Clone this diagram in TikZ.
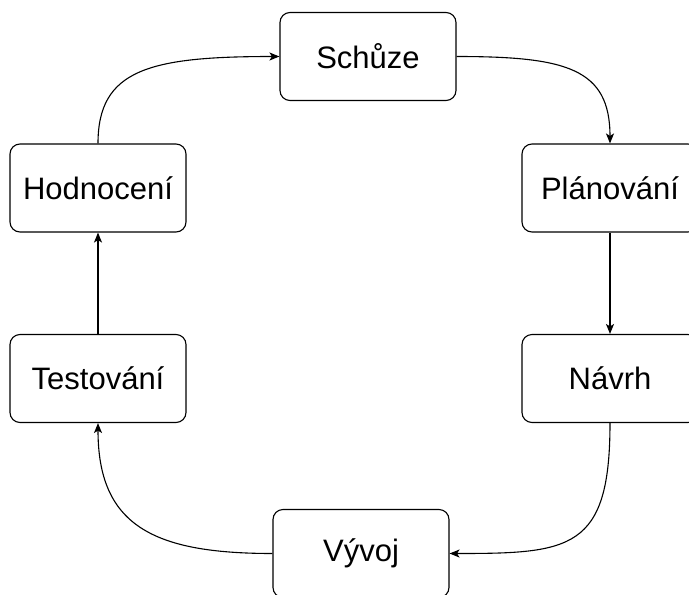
\documentclass[tikz,border=0pt]{standalone}
\usepackage{fontspec}
\setmainfont{Liberation Sans}
\usetikzlibrary{arrows.meta}
\begin{document}
\begin{tikzpicture}[x=1pt,y=-1pt,
  stage/.style={draw=black,line width=1.1pt,rounded corners=10pt,minimum width=176pt,minimum height=88pt,inner sep=0pt,font=\fontsize{31}{36}\selectfont,fill=white},
  flow/.style={line width=1.1pt,-{Stealth[length=10pt,width=8pt,inset=2.5pt]}}]
\useasboundingbox (0,0) rectangle (689,595);
\clip (0,0) rectangle (689,595);
\node[stage] (sch) at (368,56.5) {Schůze};
\node[stage] (pla) at (610,188) {Plánování};
\node[stage] (hod) at (98,188) {Hodnocení};
\node[stage] (tes) at (98,378.5) {Testování};
\node[stage] (nav) at (610,378.5) {Návrh};
\node[stage] (vyv) at (361,553.5) {Vývoj};
\draw[flow] (hod.north) .. controls +(0,-74) and +(-130,0) .. (sch.west);
\draw[flow] (sch.east) .. controls +(110,0) and +(0,-75) .. (pla.north);
\draw[flow] (pla.south) -- (nav.north);
\draw[flow] (nav.south) .. controls +(0,127) and +(121,0) .. (vyv.east);
\draw[flow] (vyv.west) .. controls +(-120,0) and +(0,102) .. (tes.south);
\draw[flow] (tes.north) -- (hod.south);
\end{tikzpicture}
\end{document}
